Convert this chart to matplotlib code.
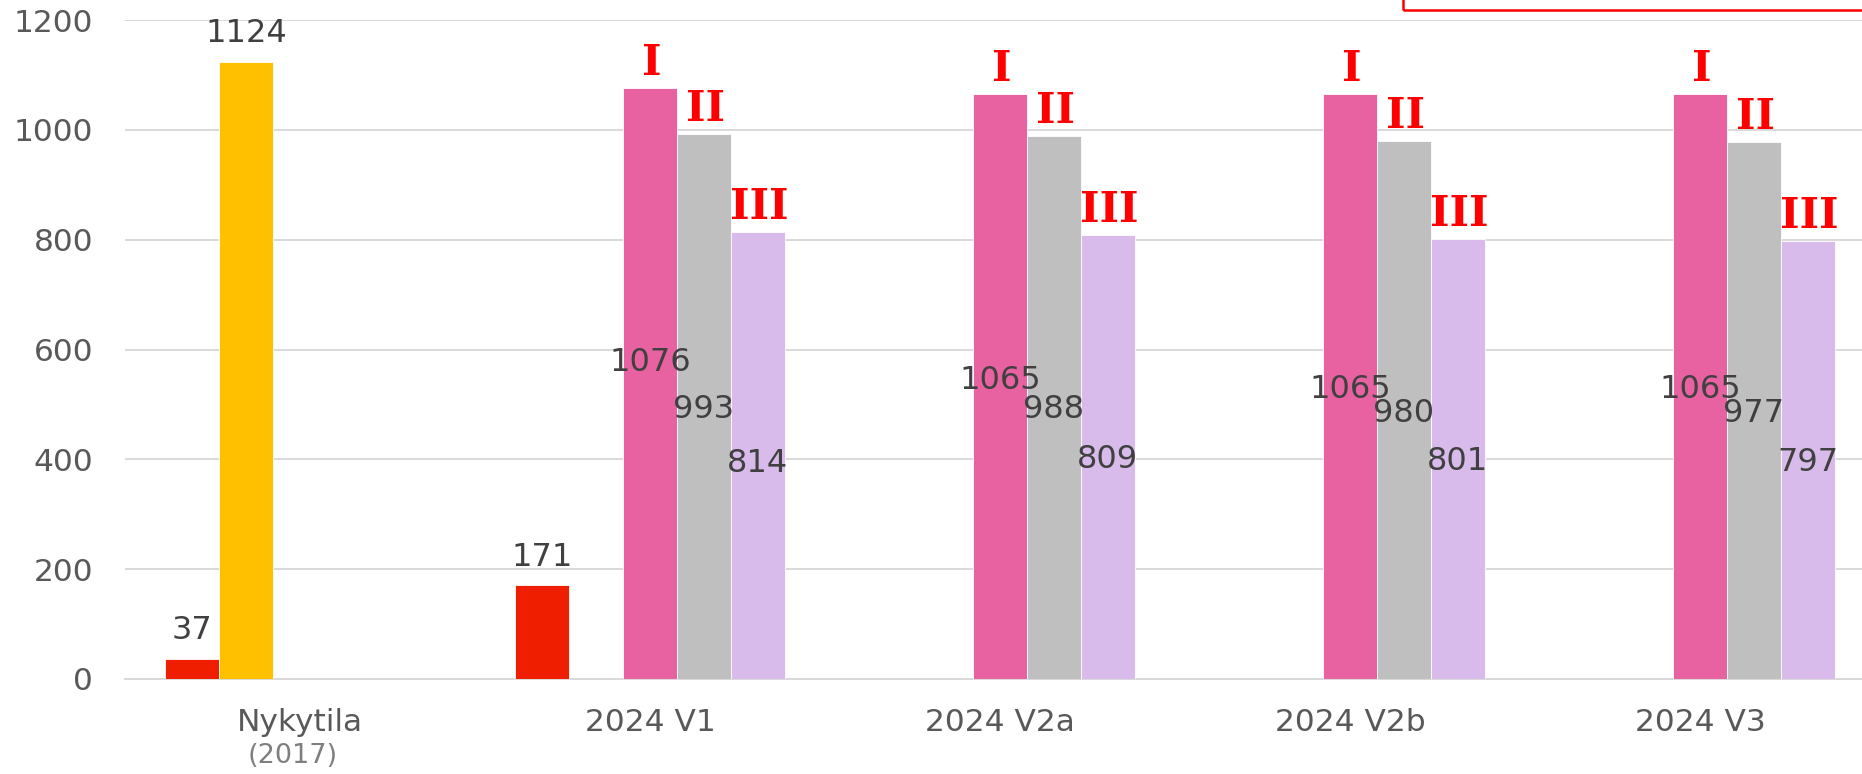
import numpy as np
import matplotlib
matplotlib.use("Agg")
import matplotlib.pyplot as plt
from matplotlib.patches import Rectangle
from matplotlib.transforms import blended_transform_factory

categories = ["Nykytila", "2024 V1", "2024 V2a", "2024 V2b", "2024 V3"]
red_vals = [37, 171, 0, 0, 0]
yellow_vals = [1124, 0, 0, 0, 0]
pink_vals = [0, 1076, 1065, 1065, 1065]
gray_vals = [0, 993, 988, 980, 977]
lilac_vals = [0, 814, 809, 801, 797]

# where the inner value labels sit (data units), as placed in the original
pink_lbl_y = [None, 577, 543, 528, 528]
gray_lbl_y = [None, 491, 491, 484, 484]
lilac_lbl_y = [None, 393, 400, 396, 394]

colors = ["#F01E00", "#FFC000", "#E862A2", "#BFBFBF", "#D8BBEA"]
series = [red_vals, yellow_vals, pink_vals, gray_vals, lilac_vals]
romans = [None, None, "I", "II", "III"]

W, H = 1862, 774
fig = plt.figure(figsize=(W / 100, H / 100), dpi=100)
ax = fig.add_axes([125 / W, (H - 679) / H, 1750 / W, 659 / H])

x = np.arange(len(categories))
bw = 0.154
for i, (vals, c) in enumerate(zip(series, colors)):
    off = (i - 2) * bw
    for xi, v in zip(x, vals):
        if v == 0:
            continue
        ax.bar(xi + off, v, width=bw, color=c, edgecolor="white", linewidth=0.6, zorder=3)
        if i < 2:
            ax.annotate(str(v), (xi + off, v), xytext=(0, 9), textcoords="offset points",
                        ha="center", va="bottom", fontsize=23, color="#404040",
                        annotation_clip=False)
        else:
            ax.annotate(romans[i], (xi + off, v), xytext=(1, 3), textcoords="offset points",
                        ha="center", va="bottom", fontsize=30, color="#FF0000",
                        family="DejaVu Serif", fontweight="bold",
                        annotation_clip=False)

label_sets = [(2, pink_vals, pink_lbl_y), (3, gray_vals, gray_lbl_y), (4, lilac_vals, lilac_lbl_y)]
for i, vals, ly in label_sets:
    off = (i - 2) * bw
    for xi, v, y in zip(x, vals, ly):
        if v == 0:
            continue
        ax.text(xi + off, y, str(v), ha="center", va="center", fontsize=23,
                color="#404040", zorder=5)

ax.set_xlim(-0.5, 4.5)
ax.set_ylim(0, 1200)
ax.set_yticks(range(0, 1201, 200))
ax.yaxis.grid(True, color="#D9D9D9", linewidth=1.4, zorder=0)
ax.set_axisbelow(True)
for s in ["top", "right", "left"]:
    ax.spines[s].set_visible(False)
ax.spines["bottom"].set_color("#D9D9D9")
ax.spines["bottom"].set_linewidth(1.4)
ax.set_xticks(x)
ax.set_xticklabels(categories)
ax.tick_params(axis="both", length=0, labelsize=22.5, labelcolor="#595959")
ax.tick_params(axis="x", pad=21)
ax.tick_params(axis="y", pad=23)

trans = blended_transform_factory(ax.transData, fig.transFigure)
fig.text(-0.02, (H - 756) / H, "(2017)", transform=trans, ha="center", va="center",
         fontsize=19.5, color="#7F7F7F")

# legend box cut off at the top right
fig.patches.append(Rectangle((1403 / W, (H - 10) / H), 0.5, 0.2, transform=fig.transFigure,
                             fill=False, edgecolor="#FF0000", linewidth=1.8))

fig.savefig("out.png", dpi=100)
